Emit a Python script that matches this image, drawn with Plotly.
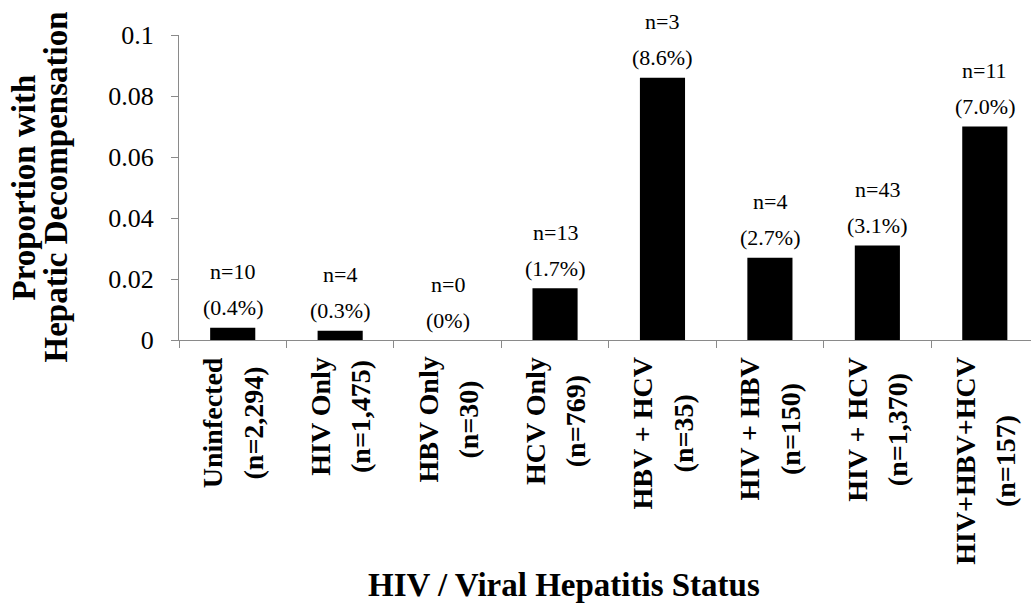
import plotly.graph_objects as go

categories = ["Uninfected", "HIV Only", "HBV Only", "HCV Only",
              "HBV + HCV", "HIV + HBV", "HIV + HCV", "HIV+HBV+HCV"]
group_sizes = ["2,294", "1,475", "30", "769", "35", "150", "1,370", "157"]
events = [10, 4, 0, 13, 3, 4, 43, 11]
proportions = [0.004, 0.003, 0.0, 0.017, 0.086, 0.027, 0.031, 0.070]
pct_labels = ["(0.4%)", "(0.3%)", "(0%)", "(1.7%)", "(8.6%)", "(2.7%)", "(3.1%)", "(7.0%)"]
y_tickvals = [0, 0.02, 0.04, 0.06, 0.08, 0.1]
y_ticktext = ["0", "0.02", "0.04", "0.06", "0.08", "0.1"]

FONT = "'Liberation Serif', 'Times New Roman', serif"
AXIS_GREY = "#8a8a8a"

fig = go.Figure()
fig.add_trace(go.Bar(
    x=categories, y=proportions,
    marker=dict(color="black", line=dict(width=0)),
    hoverinfo="skip",
))

annotations = []
for cat, n, v, p, gs in zip(categories, events, proportions, pct_labels, group_sizes):
    annotations.append(dict(x=cat, y=v, xref="x", yref="y", text=p, showarrow=False,
                            yanchor="middle", yshift=20,
                            font=dict(family=FONT, size=22, color="black")))
    annotations.append(dict(x=cat, y=v, xref="x", yref="y", text=f"n={n}", showarrow=False,
                            yanchor="middle", yshift=56,
                            font=dict(family=FONT, size=22, color="black")))
    label = (f"<span style='font-size:28px'><b>{cat}</b></span><br>"
             f"<span style='font-size:28px'><b>(n={gs})</b></span>")
    annotations.append(dict(x=cat, y=0, xref="x", yref="y",
                            text=label, showarrow=False,
                            textangle=-90, yanchor="top", xanchor="center", align="center",
                            yshift=-15,
                            font=dict(family=FONT, size=31, color="black")))

# Y axis title (two lines)
annotations.append(dict(x=0, y=0.5, xref="paper", yref="paper", text="<b>Proportion with</b>",
                        showarrow=False, textangle=-90, xanchor="center", yanchor="middle",
                        xshift=-156, font=dict(family=FONT, size=33, color="black")))
annotations.append(dict(x=0, y=0.5, xref="paper", yref="paper", text="<b>Hepatic Decompensation</b>",
                        showarrow=False, textangle=-90, xanchor="center", yanchor="middle",
                        xshift=-124, font=dict(family=FONT, size=33, color="black")))
# X axis title
annotations.append(dict(x=0, y=0, xref="paper", yref="paper", text="<b>HIV / Viral Hepatitis Status</b>",
                        showarrow=False, xanchor="center", yanchor="middle",
                        xshift=385, yshift=-245, font=dict(family=FONT, size=33, color="black")))

fig.update_layout(
    width=1031, height=608,
    margin=dict(l=179, r=0, t=35, b=268),
    paper_bgcolor="white", plot_bgcolor="white",
    bargap=0.58, showlegend=False,
    annotations=annotations,
    font=dict(family=FONT, color="black"),
)
fig.update_xaxes(
    type="category", range=[-0.5, 7.43],
    showline=True, linecolor=AXIS_GREY, linewidth=1.3,
    ticks="outside", tickson="boundaries", ticklen=7, tickcolor=AXIS_GREY, tickwidth=1.3,
    showticklabels=False, showgrid=False, zeroline=False,
)
fig.update_yaxes(
    range=[0, 0.1], tickvals=y_tickvals, ticktext=y_ticktext,
    showline=True, linecolor=AXIS_GREY, linewidth=1.3,
    ticks="outside", ticklen=7, tickcolor=AXIS_GREY, tickwidth=1.3,
    ticklabelstandoff=12,
    tickfont=dict(family=FONT, size=26, color="black"),
    showgrid=False, zeroline=False,
)

fig.write_html("out.html", config={"displayModeBar": False},
               post_script="document.body.style.margin='0px';")
